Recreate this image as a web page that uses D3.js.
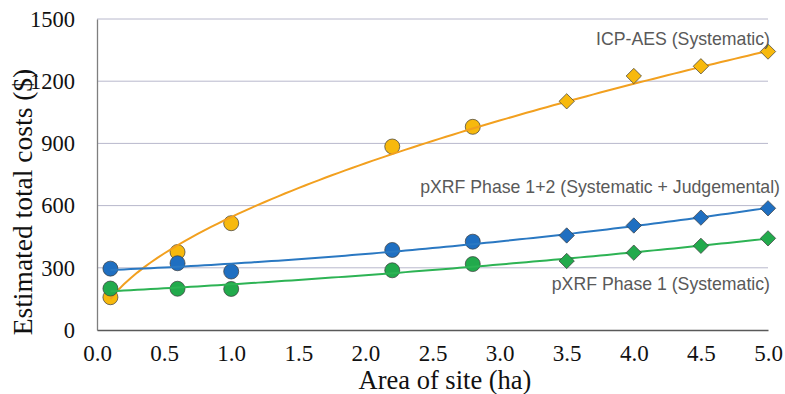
<!DOCTYPE html>
<html>
<head>
<meta charset="utf-8">
<script src="https://cdn.jsdelivr.net/npm/d3@7"></script>
<style>
  body { margin: 0; background: #fff; }
  svg { display: block; }
</style>
</head>
<body>
<svg id="chart" width="785" height="394"></svg>
<script>
// data
const areas = [0.1, 0.6, 1.0, 2.2, 2.8, 3.5, 4.0, 4.5, 5.0];
const icpCosts = [158, 376, 515, 885, 980, 1103, 1225, 1272, 1343];
const phase12Costs = [296, 322, 282, 386, 426, 456, 504, 542, 587];
const phase1Costs = [200, 199, 198, 288, 318, 333, 373, 406, 442];
// first 5 points were measured (circles), the rest estimated (diamonds)
const measuredCount = 5;
const xTicks = [0.0, 0.5, 1.0, 1.5, 2.0, 2.5, 3.0, 3.5, 4.0, 4.5, 5.0];
const yTicks = [0, 300, 600, 900, 1200, 1500];

const svg = d3.select("#chart");
const plotLeft = 97, plotRight = 768, plotTop = 19, plotBottom = 330;

const x = d3.scaleLinear().domain([0, 5]).range([plotLeft, plotRight]);
const y = d3.scaleLinear().domain([0, 1500]).range([plotBottom, plotTop]);

// least squares polynomial fit (like the spreadsheet trendlines)
function polyFit(xs, ys, deg) {
  const n = deg + 1;
  const A = [];
  for (let i = 0; i < n; i++) {
    A.push([]);
    for (let j = 0; j < n; j++) A[i].push(d3.sum(xs, v => Math.pow(v, i + j)));
    A[i].push(d3.sum(xs, (v, k) => Math.pow(v, i) * ys[k]));
  }
  for (let i = 0; i < n; i++) {
    for (let r = i + 1; r < n; r++) {
      const f = A[r][i] / A[i][i];
      for (let c = i; c <= n; c++) A[r][c] -= f * A[i][c];
    }
  }
  const coef = new Array(n).fill(0);
  for (let i = n - 1; i >= 0; i--) {
    let s = A[i][n];
    for (let j = i + 1; j < n; j++) s -= A[i][j] * coef[j];
    coef[i] = s / A[i][i];
  }
  return v => coef.reduce((acc, c, i) => acc + c * Math.pow(v, i), 0);
}

// power trendline y = a * x^b, fitted on logs
function powerFit(xs, ys) {
  const lin = polyFit(xs.map(Math.log), ys.map(Math.log), 1);
  return v => Math.exp(lin(Math.log(v)));
}

// gridlines
svg.append("g")
  .selectAll("line")
  .data(yTicks.filter(d => d > 0))
  .enter()
  .append("line")
  .attr("x1", plotLeft)
  .attr("x2", plotRight)
  .attr("y1", d => y(d))
  .attr("y2", d => y(d))
  .attr("stroke", "#b8b8cc")
  .attr("stroke-width", 1);

// axes
const yAxis = svg.append("g")
  .attr("transform", "translate(" + plotLeft + ",0)")
  .call(d3.axisLeft(y).tickValues(yTicks).tickSize(0).tickPadding(22).tickFormat(d3.format("d")));
yAxis.select(".domain").attr("stroke", "#7f7f7f").attr("stroke-width", 1.3);
yAxis.selectAll("text")
  .style("font-family", "'Liberation Serif', 'Times New Roman', serif")
  .style("font-size", "22.5px")
  .attr("fill", "#111");

const xAxis = svg.append("g")
  .attr("transform", "translate(0," + plotBottom + ")")
  .call(d3.axisBottom(x).tickValues(xTicks).tickSize(0).tickPadding(15).tickFormat(d3.format(".1f")));
xAxis.select(".domain").attr("stroke", "#595959").attr("stroke-width", 1.5);
xAxis.selectAll("text")
  .style("font-family", "'Liberation Serif', 'Times New Roman', serif")
  .style("font-size", "23px")
  .attr("fill", "#111");

// axis titles
svg.append("text")
  .attr("x", 445)
  .attr("y", 389)
  .attr("text-anchor", "middle")
  .style("font-family", "'Liberation Serif', 'Times New Roman', serif")
  .style("font-size", "26.5px")
  .attr("fill", "#111")
  .text("Area of site (ha)");

svg.append("text")
  .attr("transform", "translate(32,202) rotate(-90)")
  .attr("text-anchor", "middle")
  .style("font-family", "'Liberation Serif', 'Times New Roman', serif")
  .style("font-size", "27.5px")
  .attr("fill", "#111")
  .text("Estimated total costs ($)");

const series = [
  { name: "ICP-AES (Systematic)", values: icpCosts, fit: "power", fill: "#f7b90d", line: "#f2a01f", labelY: 45 },
  { name: "pXRF Phase 1+2 (Systematic + Judgemental)", values: phase12Costs, fit: "poly", fill: "#1f6fc1", line: "#2a78c2", labelY: 193, labelX: 780 },
  { name: "pXRF Phase 1 (Systematic)", values: phase1Costs, fit: "poly", fill: "#22aa4c", line: "#2db354", labelY: 290 }
];

const line = d3.line().x(d => x(d[0])).y(d => y(d[1]));

series.forEach(s => {
  const fit = s.fit === "power" ? powerFit(areas, s.values) : polyFit(areas, s.values, 2);
  const pts = d3.range(0.1, 5.0001, 0.05).map(v => [v, fit(v)]);
  const g = svg.append("g");
  const pointData = areas.map((a, i) => ({ a: a, v: s.values[i], measured: i < measuredCount }));

  g.selectAll(".dot")
    .data(pointData.filter(d => d.measured))
    .enter()
    .append("circle")
    .attr("cx", d => x(d.a))
    .attr("cy", d => y(d.v))
    .attr("r", 7.5)
    .attr("fill", s.fill)
    .attr("stroke", "#3a3a3a")
    .attr("stroke-opacity", 0.7)
    .attr("stroke-width", 1);

  g.append("path")
    .datum(pts)
    .attr("d", line)
    .attr("fill", "none")
    .attr("stroke", s.line)
    .attr("stroke-width", 2);

  g.selectAll(".diamond")
    .data(pointData.filter(d => !d.measured))
    .enter()
    .append("path")
    .attr("d", d3.symbol().type(d3.symbolDiamond2).size(150))
    .attr("transform", d => "translate(" + x(d.a) + "," + y(d.v) + ")")
    .attr("fill", s.fill)
    .attr("stroke", "#3a3a3a")
    .attr("stroke-opacity", 0.7)
    .attr("stroke-width", 1);

  g.append("text")
    .attr("x", s.labelX || 770)
    .attr("y", s.labelY)
    .attr("text-anchor", "end")
    .style("font-family", "'Liberation Sans', Arial, sans-serif")
    .style("font-size", "17.7px")
    .attr("fill", "#595959")
    .text(s.name);
});
</script>
</body>
</html>
